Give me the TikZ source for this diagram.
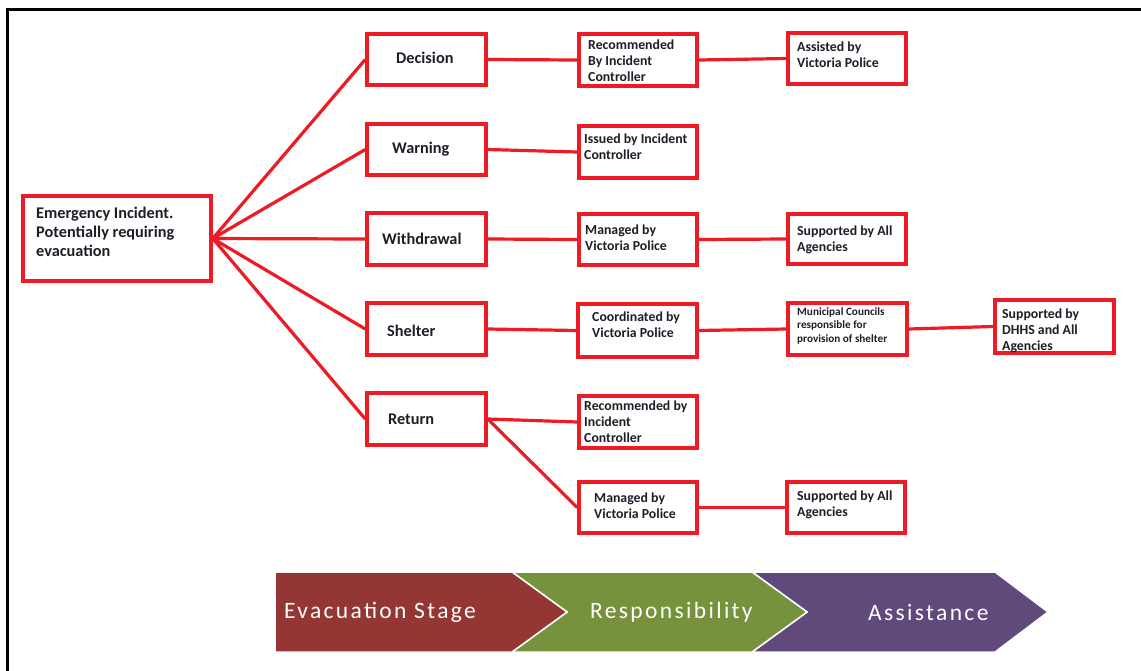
\documentclass[tikz,border=0pt]{standalone}
\usepackage{fontspec}
\setmainfont{Carlito}
\definecolor{bred}{RGB}{237,28,36}
\definecolor{ink}{RGB}{30,30,40}
\definecolor{chred}{RGB}{148,54,52}
\definecolor{chgreen}{RGB}{118,146,60}
\definecolor{chpurple}{RGB}{96,74,123}
\tikzset{
  box/.style={draw=bred, line width=3.5pt, fill=white, inner sep=0pt},
  conn/.style={draw=bred, line width=3.2pt},
  txt/.style={font=\bfseries\fontsize{13.8}{16}\selectfont, align=left, inner sep=0pt, text=ink},
  bigtxt/.style={font=\bfseries\fontsize{16.3}{19}\selectfont, align=left, inner sep=0pt, text=ink},
  smalltxt/.style={font=\bfseries\fontsize{11.2}{13.5}\selectfont, align=left, inner sep=0pt, text=ink},
  chev/.style={draw=white, line width=1.5pt, line join=miter},
  chevtxt/.style={font=\fontsize{23.5}{25}\selectfont\addfontfeature{LetterSpace=10}, text=white, inner sep=0pt}
}
\newcommand{\bx}[5]{\node[box, minimum width={(#4-#2)*1pt}, minimum height={(#5-#3)*1pt}] (#1) at ({(#2+#4)/2},{(#3+#5)/2}) {};}
\begin{document}
\begin{tikzpicture}[x=1pt,y=-1pt]
\useasboundingbox (0,0) rectangle (1141,670);
\clip (0,0) rectangle (1141,670);
\fill[white] (0,0) rectangle (1141,670);
% frame
\draw[black, line width=3pt] (7,9) rectangle (1160,690);

% boxes
\bx{em}{23}{196}{211}{281}
\bx{dec}{367}{34}{486}{85}
\bx{warn}{367}{124}{486}{175}
\bx{wd}{367}{213}{486}{265}
\bx{sh}{367}{303}{486}{355}
\bx{ret}{367}{393}{486}{445}
\bx{rec1}{579}{34}{697}{86}
\bx{ass}{788}{33}{906}{84}
\bx{iss}{579}{126}{697}{178}
\bx{man1}{579}{214}{697}{265}
\bx{sup1}{788}{214}{906}{264}
\bx{coo}{578}{304}{697}{357}
\bx{mun}{788}{303}{907}{355}
\bx{dhhs}{995}{300}{1114}{353}
\bx{rec2}{579}{396}{697}{448}
\bx{man2}{579}{482}{697}{533}
\bx{sup2}{787}{482}{905}{533}

% connectors
\foreach \t in {dec,warn,wd,sh,ret}{\draw[conn] (em.east) -- (\t.west);}
\draw[conn] (dec.east) -- (rec1.west);
\draw[conn] (warn.east) -- (iss.west);
\draw[conn] (wd.east) -- (man1.west);
\draw[conn] (sh.east) -- (coo.west);
\draw[conn] (ret.east) -- (rec2.west);
\draw[conn] (ret.east) -- (man2.west);
\draw[conn] (rec1.east) -- (ass.west);
\draw[conn] (man1.east) -- (sup1.west);
\draw[conn] (coo.east) -- (mun.west);
\draw[conn] (mun.east) -- (dhhs.west);
\draw[conn] (man2.east) -- (sup2.west);

% texts
\node[bigtxt, anchor=north west] (em-t) at (36,207) {Emergency Incident.\\Potentially requiring\\evacuation};
\node[bigtxt, anchor=west] (dec-t) at (396,58) {Decision};
\node[bigtxt, anchor=west] (warn-t) at (392,149) {Warning};
\node[bigtxt, anchor=west] (wd-t) at (382,239) {Withdrawal};
\node[bigtxt, anchor=west] (sh-t) at (387,331) {Shelter};
\node[bigtxt, anchor=west] (ret-t) at (388,419) {Return};

\node[txt, anchor=north west] (rec1-t) at (588,40) {Recommended\\By Incident\\Controller};
\node[txt, anchor=north west] (ass-t) at (797,42) {Assisted by\\Victoria Police};
\node[txt, anchor=north west] (iss-t) at (584,134) {Issued by Incident\\Controller};
\node[txt, anchor=north west] (man1-t) at (585,225) {Managed by\\Victoria Police};
\node[txt, anchor=north west] (sup1-t) at (797,226) {Supported by All\\Agencies};
\node[txt, anchor=north west] (coo-t) at (592,312) {Coordinated by\\Victoria Police};
\node[smalltxt, anchor=north west] (mun-t) at (797,307) {Municipal Councils\\responsible for\\provision of shelter};
\node[txt, anchor=north west] (dhhs-t) at (1002,309) {Supported by\\DHHS and All\\Agencies};
\node[txt, anchor=north west] (rec2-t) at (584,401) {Recommended by\\Incident\\Controller};
\node[txt, anchor=north west] (man2-t) at (594,493) {Managed by\\Victoria Police};
\node[txt, anchor=north west] (sup2-t) at (797,491) {Supported by All\\Agencies};

% chevrons
\path[chev, fill=chpurple] (752,572) -- (995,572) -- (1048,612) -- (995,652) -- (752,652) -- (807,612) -- cycle;
\path[chev, fill=chgreen] (512,572) -- (752,572) -- (807,612) -- (752,652) -- (512,652) -- (567,612) -- cycle;
\path[chev, fill=chred] (275,572) -- (512,572) -- (567,612) -- (512,652) -- (275,652) -- cycle;
\node[chevtxt, anchor=west] (c1) at (284,612) {Evacuation Stage};
\node[chevtxt, anchor=west] (c2) at (590,612) {Responsibility};
\node[chevtxt, anchor=west] (c3) at (868,612) {Assistance};
\end{tikzpicture}
\end{document}
